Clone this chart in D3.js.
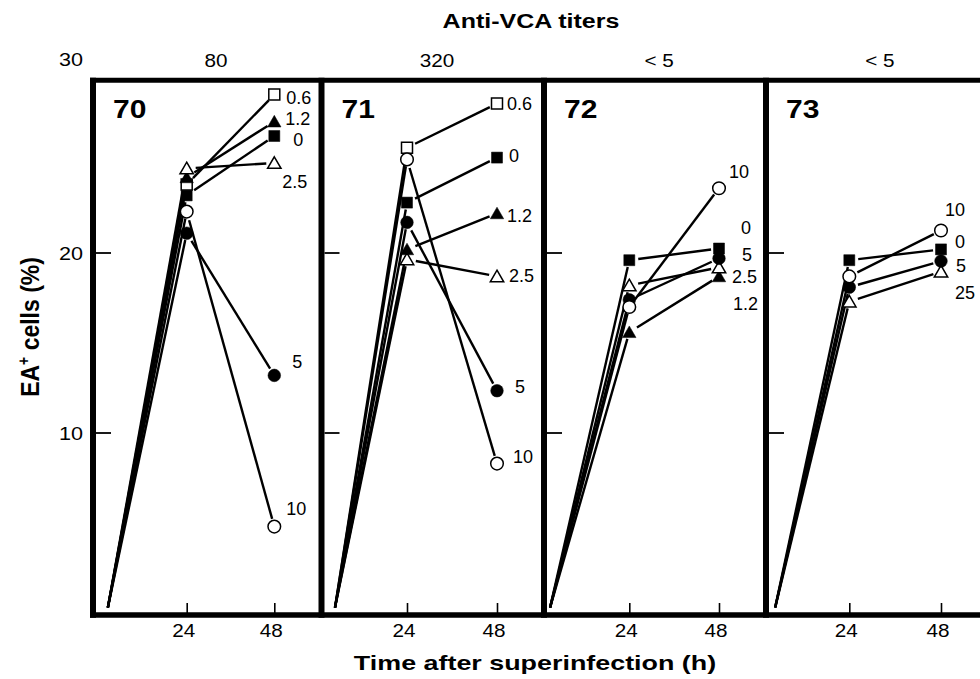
<!DOCTYPE html>
<html><head><meta charset="utf-8">
<script src="https://cdn.jsdelivr.net/npm/d3@7"></script>
<style>
html,body{margin:0;padding:0;background:#fff;}
svg{display:block;font-family:"Liberation Sans",Arial,Helvetica,sans-serif;}
</style></head>
<body><svg id="c" width="980" height="679"></svg>
<script>
// ---------------- data ----------------
const panelIds = ["70", "71", "72", "73"];
const titers = ["80", "320", "< 5", "< 5"];
const doses = ["0", "0.6", "1.2", "2.5", "5", "10"];
const symbolsByDose = ["filledSquare", "openSquare", "filledTriangle", "openTriangle", "filledCircle", "openCircle"];
const xTicks = [24, 48];
const yTicks = [10, 20, 30];
// start of each curve (h, %)
const startTime = [2.4, 4.8, 2.8, 4.6];
const startValue = 0.3;
// values per dose (order of doses), null = not measured
const p70_24h = [23.2, 23.8, 24.2, 24.7, 21.1, 22.3];
const p70_48h = [26.5, 28.8, 27.3, 25.0, 13.2, 4.8];
const p71_24h = [22.8, 25.85, 20.2, 19.65, 21.7, 25.2];
const p71_48h = [25.3, 28.3, 22.2, 18.7, 12.35, 8.3];
const p72_24h = [19.6, null, 15.6, 18.2, 17.4, 17.0];
const p72_48h = [20.25, null, 18.7, 19.2, 19.7, 23.6];
const p73_24h = [19.6, null, null, 17.3, 18.1, 18.7];
const p73_48h = [20.2, null, null, 18.96, 19.55, 21.25];
const labels70 = ["0", "0.6", "1.2", "2.5", "5", "10"];
const labels71 = ["0", "0.6", "1.2", "2.5", "5", "10"];
const labels72 = ["0", null, "1.2", "2.5", "5", "10"];
const labels73 = ["0", null, null, "25", "5", "10"];

const values24 = [p70_24h, p71_24h, p72_24h, p73_24h];
const values48 = [p70_48h, p71_48h, p72_48h, p73_48h];
const labelTexts = [labels70, labels71, labels72, labels73];

// ---------------- layout ----------------
const frameLeft = [93, 321.5, 544, 766];
const tickPx24 = [186.7, 407, 629.3, 849.3];
const tickPx48 = [274.3, 497, 719, 941];
const frameTopVal = 29.6, frameBottomY = 615;
// label offsets [dx, dy] from the 48 h point
const labelOffsets = [
  [[19, 4], [12, 3], [11, -3], [8, 19], [18, -14], [12, -18]],
  [[12, -2], [10, 0], [10, 2], [12, -1], [18, -4], [16, -7]],
  [[22, -21], null, [14, 27], [13, 9], [23, -4], [10, -17]],
  [[14, -8], null, null, [14, 21], [15, 4], [4, -21]]
];

const svg = d3.select("#c");
const y = d3.scaleLinear().domain([10, 20]).range([433, 253]);
const frameTop = y(frameTopVal);

function stext(parent, x, yy, txt, size, opts = {}) {
  const t = parent.append("text")
    .attr("transform", `translate(${x},${yy}) scale(${opts.sx || 1},1)`)
    .attr("font-size", size)
    .attr("text-anchor", opts.anchor || "start")
    .text(txt);
  if (opts.bold) t.attr("font-weight", "bold");
  return t;
}

// titles
stext(svg, 531, 28, "Anti-VCA titers", 20, {anchor: "middle", bold: true, sx: 1.25});
stext(svg, 535, 670, "Time after superinfection (h)", 21, {anchor: "middle", bold: true, sx: 1.28});
const yt = svg.append("text").attr("transform", "translate(39,327) rotate(-90) scale(1,1.15)")
  .attr("text-anchor", "middle").attr("font-size", 23).attr("font-weight", "bold");
yt.append("tspan").text("EA");
yt.append("tspan").attr("dy", -9).attr("font-size", 14).text("+");
yt.append("tspan").attr("dy", 9).text(" cells (%)");

// y tick labels
yTicks.forEach(v => {
  const ty = v === 30 ? 66 : y(v) + 6.5;
  stext(svg, 83, ty, v, 18, {anchor: "end", sx: 1.2});
});

function symbolPath(kind) {
  let type = d3.symbolCircle, size = 125;
  if (kind.endsWith("Square")) { type = d3.symbolSquare; size = 121; }
  if (kind.endsWith("Triangle")) { type = d3.symbolTriangle; size = 78; }
  return d3.symbol().type(type).size(size)();
}

function shorten(p1, p2, g1, g2) {
  const dx = p2[0] - p1[0], dy = p2[1] - p1[1];
  const L = Math.hypot(dx, dy);
  return [[p1[0] + dx * g1 / L, p1[1] + dy * g1 / L], [p2[0] - dx * g2 / L, p2[1] - dy * g2 / L]];
}

panelIds.forEach((pid, i) => {
  const x = d3.scaleLinear().domain([24, 48]).range([tickPx24[i], tickPx48[i]]);
  const g = svg.append("g");

  // titer label
  stext(svg, x(32), 67, titers[i], 18, {anchor: "middle", sx: 1.15});

  // x axis ticks
  const ax = d3.axisBottom(x).tickValues(xTicks).tickSize(-10).tickPadding(11);
  const axg = g.append("g").attr("transform", `translate(0,${frameBottomY - 2})`).call(ax);
  axg.select(".domain").remove();
  axg.selectAll("line").attr("stroke", "#000").attr("stroke-width", 1.6);
  axg.selectAll("text").attr("font-size", 18).attr("font-family", "Liberation Sans, Arial, sans-serif")
    .attr("fill", "#000").attr("dx", -3).attr("transform", "scale(1.15,1)");

  // y ticks
  [10, 20].forEach(v => {
    g.append("line").attr("x1", frameLeft[i] + 3).attr("x2", frameLeft[i] + 18)
      .attr("y1", y(v)).attr("y2", y(v)).attr("stroke", "#000").attr("stroke-width", 1.8);
  });

  // panel number
  stext(g, frameLeft[i] + 20, 118, pid, 25, {bold: true, sx: 1.2});

  const p0 = [x(startTime[i]), y(startValue)];
  // lines
  doses.forEach((d, k) => {
    const v24 = values24[i][k], v48 = values48[i][k];
    if (v24 == null) return;
    const p24 = [x(24), y(v24)], p48 = [x(48), y(v48)];
    const s1 = shorten(p0, p24, 0, 7);
    g.append("line").attr("x1", s1[0][0]).attr("y1", s1[0][1]).attr("x2", s1[1][0]).attr("y2", s1[1][1])
      .attr("stroke", "#000").attr("stroke-width", 2.4);
    const s2 = shorten(p24, p48, 9, 8);
    g.append("line").attr("x1", s2[0][0]).attr("y1", s2[0][1]).attr("x2", s2[1][0]).attr("y2", s2[1][1])
      .attr("stroke", "#000").attr("stroke-width", 2.4);
  });
  // markers
  doses.forEach((d, k) => {
    const v24 = values24[i][k], v48 = values48[i][k];
    if (v24 == null) return;
    const kind = symbolsByDose[k];
    const open = kind.startsWith("open");
    [[24, v24], [48, v48]].forEach(([t, v]) => {
      g.append("path").attr("d", symbolPath(kind))
        .attr("transform", `translate(${x(t)},${y(v) + (kind.endsWith("Triangle") ? 1.5 : 0)})`)
        .attr("fill", open ? "#fff" : "#000").attr("stroke", "#000").attr("stroke-width", open ? 1.5 : 0.5);
    });
    const off = labelOffsets[i][k], txt = labelTexts[i][k];
    if (off && txt) {
      g.append("text").attr("x", x(48) + off[0]).attr("y", y(v48) + off[1]).attr("dy", "0.36em")
        .attr("font-size", 18).text(txt);
    }
  });
});

// frame
const fr = svg.append("g").attr("stroke", "#000").attr("fill", "none");
fr.append("line").attr("x1", 90).attr("x2", 990).attr("y1", frameTop).attr("y2", frameTop).attr("stroke-width", 5);
fr.append("line").attr("x1", 90).attr("x2", 990).attr("y1", frameBottomY).attr("y2", frameBottomY).attr("stroke-width", 5.5);
frameLeft.forEach(fx => {
  fr.append("line").attr("x1", fx).attr("x2", fx).attr("y1", frameTop - 2.5).attr("y2", frameBottomY + 2.75)
    .attr("stroke-width", 6);
});
</script></body></html>
